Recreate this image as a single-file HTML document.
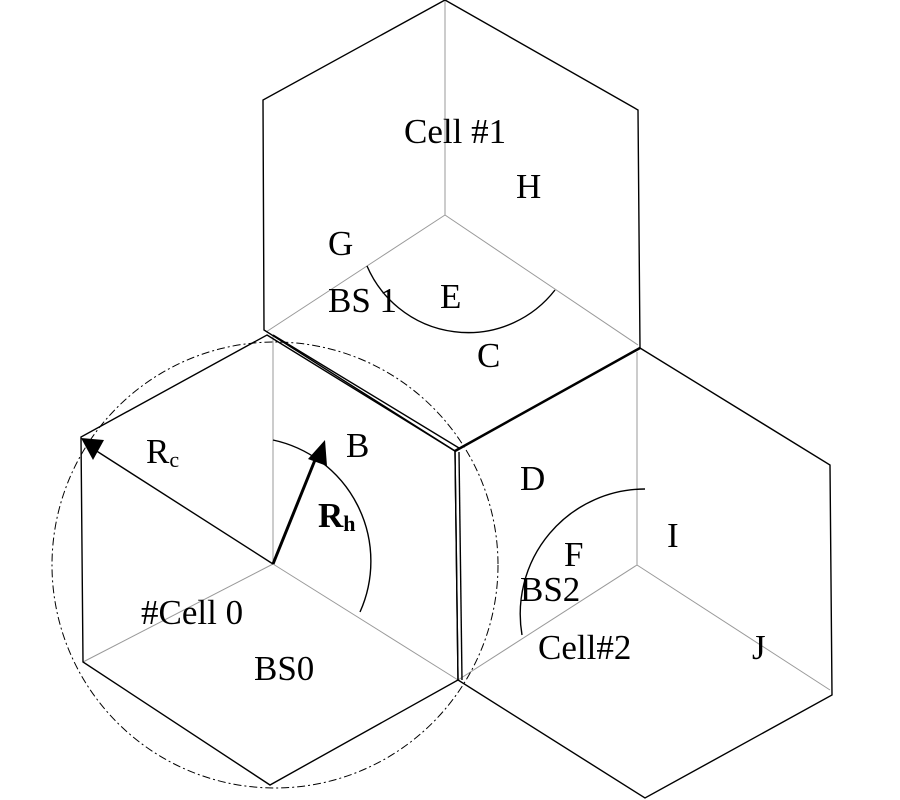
<!DOCTYPE html>
<html><head><style>body{margin:0;background:#fff}svg{display:block}text{font-family:"Liberation Serif",serif;font-size:35px;fill:#000}</style></head>
<body>
<svg width="900" height="800" viewBox="0 0 900 800">
<g fill="none" stroke="#999" stroke-width="1">
<line x1="273" y1="564" x2="273" y2="336"/>
<line x1="273" y1="564" x2="83" y2="662"/>
<line x1="273" y1="564" x2="458" y2="680"/>
<line x1="445" y1="215" x2="445" y2="0"/>
<line x1="445" y1="215" x2="266" y2="332"/>
<line x1="445" y1="215" x2="638" y2="345"/>
<line x1="637" y1="565" x2="637" y2="352"/>
<line x1="637" y1="565" x2="458" y2="680"/>
<line x1="637" y1="565" x2="830" y2="690"/>
</g>
<g fill="none" stroke="#000" stroke-width="1.4">
<polygon points="267,335 455,451 458,680 270,785 83,662 81,437"/>
<polygon points="445,0 638,110 640,348 455,451 264,330 263,100"/>
<polygon points="640,348 830,465 832,695 645,798 458,680 455,451"/>
<line x1="273" y1="335" x2="459" y2="448"/>
<line x1="455" y1="451" x2="640" y2="348" stroke-width="2.5"/>
<line x1="459" y1="452" x2="462" y2="680"/>
<path d="M273,440 A124,124 0 0 1 360,612"/>
<path d="M367,266 A110,110 0 0 0 555,290"/>
<path d="M645,489 A125,125 0 0 0 522,635"/>
<line x1="273" y1="564" x2="95" y2="450"/>
<line x1="273" y1="564" x2="317" y2="455" stroke-width="3"/>
</g>
<polygon points="81,438 104,440 93,460" fill="#000"/>
<polygon points="325,440 327,466 308,459" fill="#000"/>
<circle cx="275" cy="565" r="223" fill="none" stroke="#000" stroke-width="1" stroke-dasharray="8,3,2,3"/>
<text x="404" y="143">Cell #1</text>
<text x="516" y="198">H</text>
<text x="328" y="255">G</text>
<text x="328" y="312">BS 1</text>
<text x="440" y="308">E</text>
<text x="477" y="367">C</text>
<text x="346" y="457">B</text>
<text x="146" y="463">R<tspan font-size="22" dy="4">c</tspan></text>
<text x="318" y="527" font-weight="bold">R<tspan font-size="22" dy="4">h</tspan></text>
<text x="520" y="490">D</text>
<text x="667" y="547">I</text>
<text x="564" y="566">F</text>
<text x="520" y="601">BS2</text>
<text x="538" y="659">Cell#2</text>
<text x="752" y="659">J</text>
<text x="141" y="624">#Cell 0</text>
<text x="254" y="680">BS0</text>
</svg>
</body></html>
